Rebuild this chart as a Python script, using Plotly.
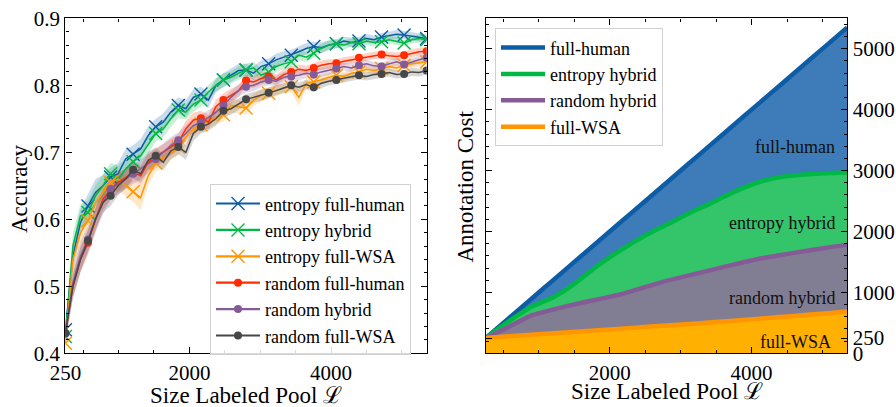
import plotly.graph_objects as go

# ---------------- data: left panel (accuracy) ----------------
X_ACC = [250, 356, 462, 569, 675, 781, 888, 994, 1100, 1206, 1312, 1419, 1525, 1631, 1738,
         1844, 1950, 2056, 2163, 2269, 2375, 2481, 2588, 2694, 2800, 2906, 3012, 3119, 3225,
         3331, 3438, 3544, 3650, 3756, 3862, 3969, 4075, 4181, 4288, 4394, 4500, 4606, 4713,
         4819, 4925, 5031, 5138, 5244, 5350]

ACC_ENT_HUMAN = [0.435, 0.545, 0.595, 0.620, 0.640, 0.650, 0.663, 0.668, 0.690, 0.697, 0.705, 0.725,
                 0.738, 0.745, 0.760, 0.770, 0.765, 0.782, 0.787, 0.778, 0.800, 0.808, 0.815, 0.822,
                 0.823, 0.818, 0.828, 0.832, 0.838, 0.842, 0.845, 0.850, 0.855, 0.858, 0.856, 0.860,
                 0.862, 0.866, 0.864, 0.866, 0.870, 0.868, 0.872, 0.874, 0.876, 0.875, 0.873, 0.871,
                 0.870]
ACC_ENT_HYBRID = [0.425, 0.560, 0.605, 0.610, 0.635, 0.650, 0.668, 0.660, 0.675, 0.686, 0.695, 0.712,
                  0.728, 0.735, 0.750, 0.763, 0.760, 0.772, 0.778, 0.790, 0.800, 0.808, 0.812, 0.818,
                  0.823, 0.826, 0.815, 0.820, 0.828, 0.832, 0.835, 0.845, 0.842, 0.848, 0.855, 0.860,
                  0.862, 0.860, 0.864, 0.862, 0.866, 0.864, 0.865, 0.868, 0.866, 0.863, 0.868, 0.870,
                  0.868]
ACC_ENT_WSA = [0.415, 0.540, 0.580, 0.598, 0.625, 0.640, 0.655, 0.660, 0.650, 0.641, 0.632, 0.665,
               0.684, 0.690, 0.700, 0.708, 0.722, 0.735, 0.741, 0.745, 0.752, 0.756, 0.770, 0.768,
               0.766, 0.778, 0.785, 0.788, 0.792, 0.796, 0.798, 0.782, 0.803, 0.805, 0.808, 0.812,
               0.815, 0.813, 0.818, 0.820, 0.824, 0.822, 0.825, 0.828, 0.826, 0.830, 0.832, 0.834,
               0.835]
ACC_RND_HUMAN = [0.430, 0.500, 0.540, 0.565, 0.600, 0.630, 0.645, 0.655, 0.662, 0.670, 0.665, 0.685,
                 0.693, 0.700, 0.708, 0.715, 0.735, 0.748, 0.751, 0.745, 0.768, 0.778, 0.785, 0.792,
                 0.807, 0.805, 0.810, 0.813, 0.808, 0.816, 0.820, 0.824, 0.822, 0.826, 0.830, 0.832,
                 0.833, 0.836, 0.838, 0.841, 0.843, 0.845, 0.846, 0.844, 0.843, 0.845, 0.848, 0.850,
                 0.851]
ACC_RND_HYBRID = [0.430, 0.505, 0.545, 0.570, 0.600, 0.625, 0.645, 0.652, 0.660, 0.668, 0.675, 0.682,
                  0.690, 0.700, 0.710, 0.718, 0.728, 0.740, 0.745, 0.752, 0.760, 0.770, 0.782, 0.792,
                  0.798, 0.800, 0.805, 0.808, 0.806, 0.812, 0.813, 0.815, 0.818, 0.816, 0.820, 0.822,
                  0.825, 0.828, 0.826, 0.830, 0.832, 0.829, 0.828, 0.832, 0.835, 0.831, 0.835, 0.838,
                  0.841]
ACC_RND_WSA = [0.430, 0.500, 0.540, 0.568, 0.600, 0.625, 0.635, 0.650, 0.660, 0.674, 0.668, 0.688,
               0.695, 0.685, 0.702, 0.708, 0.700, 0.728, 0.738, 0.742, 0.750, 0.762, 0.765, 0.772,
               0.779, 0.782, 0.785, 0.789, 0.792, 0.796, 0.800, 0.797, 0.801, 0.797, 0.803, 0.806,
               0.808, 0.810, 0.812, 0.815, 0.813, 0.816, 0.817, 0.819, 0.816, 0.817, 0.820, 0.819,
               0.822]

STD_ENT_HUMAN = [0.012, 0.020, 0.020, 0.018, 0.020, 0.016, 0.014, 0.016, 0.015, 0.013, 0.015, 0.014,
                 0.012, 0.013, 0.012, 0.012, 0.013, 0.012, 0.011, 0.012, 0.010, 0.010, 0.010, 0.010,
                 0.009, 0.010, 0.009, 0.008, 0.009, 0.009, 0.008, 0.008, 0.008, 0.007, 0.008, 0.007,
                 0.007, 0.007, 0.007, 0.006, 0.007, 0.006, 0.006, 0.006, 0.007, 0.006, 0.006, 0.006,
                 0.006]
STD_ENT_HYBRID = [0.012, 0.020, 0.018, 0.018, 0.016, 0.018, 0.016, 0.020, 0.015, 0.014, 0.013, 0.014,
                  0.012, 0.013, 0.012, 0.012, 0.011, 0.012, 0.010, 0.011, 0.010, 0.010, 0.009, 0.010,
                  0.009, 0.009, 0.010, 0.009, 0.008, 0.008, 0.008, 0.008, 0.007, 0.007, 0.007, 0.007,
                  0.006, 0.007, 0.006, 0.006, 0.006, 0.006, 0.006, 0.006, 0.006, 0.005, 0.006, 0.006,
                  0.006]
STD_ENT_WSA = [0.012, 0.018, 0.018, 0.016, 0.016, 0.015, 0.014, 0.015, 0.016, 0.015, 0.018, 0.014,
               0.013, 0.013, 0.012, 0.012, 0.012, 0.011, 0.011, 0.010, 0.010, 0.010, 0.011, 0.010,
               0.010, 0.009, 0.009, 0.009, 0.008, 0.008, 0.008, 0.012, 0.008, 0.007, 0.007, 0.007,
               0.007, 0.007, 0.007, 0.006, 0.006, 0.006, 0.006, 0.006, 0.006, 0.006, 0.006, 0.006,
               0.006]
STD_RND_HUMAN = [0.012, 0.018, 0.020, 0.018, 0.018, 0.016, 0.015, 0.015, 0.014, 0.014, 0.014, 0.013,
                 0.013, 0.012, 0.012, 0.012, 0.012, 0.011, 0.011, 0.011, 0.010, 0.010, 0.010, 0.009,
                 0.009, 0.009, 0.009, 0.008, 0.008, 0.008, 0.008, 0.007, 0.007, 0.007, 0.007, 0.007,
                 0.006, 0.006, 0.006, 0.006, 0.006, 0.006, 0.006, 0.006, 0.006, 0.006, 0.006, 0.006,
                 0.006]
STD_RND_HYBRID = [0.012, 0.020, 0.022, 0.020, 0.020, 0.018, 0.016, 0.016, 0.015, 0.015, 0.014, 0.014,
                  0.014, 0.013, 0.013, 0.012, 0.012, 0.011, 0.011, 0.011, 0.010, 0.010, 0.010, 0.009,
                  0.009, 0.009, 0.008, 0.008, 0.008, 0.008, 0.008, 0.007, 0.007, 0.007, 0.007, 0.007,
                  0.007, 0.006, 0.006, 0.006, 0.006, 0.006, 0.006, 0.006, 0.006, 0.006, 0.006, 0.006,
                  0.006]
STD_RND_WSA = [0.012, 0.018, 0.018, 0.016, 0.016, 0.015, 0.015, 0.014, 0.014, 0.013, 0.013, 0.013,
               0.012, 0.012, 0.012, 0.011, 0.011, 0.011, 0.010, 0.010, 0.010, 0.009, 0.009, 0.009,
               0.008, 0.008, 0.008, 0.008, 0.008, 0.007, 0.007, 0.007, 0.007, 0.007, 0.007, 0.006,
               0.006, 0.006, 0.006, 0.006, 0.006, 0.006, 0.006, 0.006, 0.006, 0.006, 0.006, 0.006,
               0.006]

ACC_NAMES = ["entropy full-human", "entropy hybrid", "entropy full-WSA",
             "random full-human", "random hybrid", "random full-WSA"]

# ---------------- data: right panel (annotation cost) ----------------
X_COST = [250, 569, 888, 1206, 1525, 1844, 2163, 2481, 2800, 3119, 3438, 3756, 4075, 4394,
          4713, 5031, 5350]
COST_FULL_HUMAN = [250, 569, 888, 1206, 1525, 1844, 2163, 2481, 2800, 3119, 3438, 3756, 4075,
                   4394, 4713, 5031, 5350]
COST_ENT_HYBRID = [250, 520, 760, 920, 1160, 1450, 1700, 1920, 2110, 2300, 2470, 2650, 2800,
                   2890, 2930, 2955, 2970]
COST_RND_HYBRID = [250, 430, 620, 720, 810, 890, 970, 1080, 1190, 1280, 1370, 1460, 1545, 1610,
                   1670, 1730, 1780]
COST_FULL_WSA = [250, 280, 305, 330, 355, 380, 405, 430, 455, 480, 510, 535, 565, 595, 625, 655,
                 685]
COST_NAMES = ["full-human", "entropy hybrid", "random hybrid", "full-WSA"]

# ---------------- style ----------------
BLUE, GREEN, ORANGE = "#0C5DA5", "#00B945", "#FF9500"
RED, PURPLE, GRAY = "#FF2C00", "#845B97", "#474747"
FONT = "Liberation Serif"


def rgba(hex_color, a):
    h = hex_color.lstrip("#")
    r, g, b = int(h[0:2], 16), int(h[2:4], 16), int(h[4:6], 16)
    return f"rgba({r},{g},{b},{a})"


W, H = 896, 407
L_X0, L_X1 = 65.4, 426.7
R_X0, R_X1 = 485.7, 847.3
Y_TOP, Y_BOT = 18.3, 353.3

fig = go.Figure()

acc_series = [
    (ACC_NAMES[0], ACC_ENT_HUMAN, STD_ENT_HUMAN, BLUE, "x"),
    (ACC_NAMES[1], ACC_ENT_HYBRID, STD_ENT_HYBRID, GREEN, "x"),
    (ACC_NAMES[2], ACC_ENT_WSA, STD_ENT_WSA, ORANGE, "x"),
    (ACC_NAMES[3], ACC_RND_HUMAN, STD_RND_HUMAN, RED, "o"),
    (ACC_NAMES[4], ACC_RND_HYBRID, STD_RND_HYBRID, PURPLE, "o"),
    (ACC_NAMES[5], ACC_RND_WSA, STD_RND_WSA, GRAY, "o"),
]


def marker_style(color, kind):
    if kind == "x":
        return dict(symbol="x-thin", size=13, color=color, line=dict(color=color, width=1.4))
    return dict(symbol="circle", size=8, color=color, line=dict(width=0))


# bands
for name, y, s, color, kind in acc_series:
    up = [a + b for a, b in zip(y, s)]
    lo = [a - b for a, b in zip(y, s)]
    fig.add_trace(go.Scatter(x=X_ACC + X_ACC[::-1], y=up + lo[::-1], fill="toself",
                             fillcolor=rgba(color, 0.22), line=dict(width=0), mode="lines",
                             hoverinfo="skip", showlegend=False, xaxis="x", yaxis="y"))
# lines and markers
for name, y, s, color, kind in acc_series:
    fig.add_trace(go.Scatter(x=X_ACC, y=y, mode="lines", line=dict(color=color, width=1.5),
                             showlegend=False, xaxis="x", yaxis="y"))
    fig.add_trace(go.Scatter(x=X_ACC[::3], y=y[::3], mode="markers",
                             marker=marker_style(color, kind),
                             showlegend=False, xaxis="x", yaxis="y"))
# legend entries
for name, y, s, color, kind in acc_series:
    fig.add_trace(go.Scatter(x=[None], y=[None], mode="lines+markers", name=name,
                             line=dict(color=color, width=2.2), marker=marker_style(color, kind),
                             legend="legend", xaxis="x", yaxis="y"))

# right panel fills (stacked regions)
fills = [
    (COST_FULL_WSA, "#FFB000", "tozeroy"),
    (COST_RND_HYBRID, "#817E94", "tonexty"),
    (COST_ENT_HYBRID, "#34C56B", "tonexty"),
    (COST_FULL_HUMAN, "#3D7CB9", "tonexty"),
]
for y, fc, mode in fills:
    fig.add_trace(go.Scatter(x=X_COST, y=y, fill=mode, fillcolor=fc, mode="lines",
                             line=dict(width=0, shape="spline", smoothing=0.5),
                             hoverinfo="skip", showlegend=False, xaxis="x2", yaxis="y2"))

cost_lines = [
    (COST_NAMES[0], COST_FULL_HUMAN, BLUE),
    (COST_NAMES[1], COST_ENT_HYBRID, GREEN),
    (COST_NAMES[2], COST_RND_HYBRID, PURPLE),
    (COST_NAMES[3], COST_FULL_WSA, ORANGE),
]
for name, y, color in cost_lines:
    fig.add_trace(go.Scatter(x=X_COST, y=y, mode="lines", name=name,
                             line=dict(color=color, width=4.5, shape="spline", smoothing=0.5),
                             legend="legend2", xaxis="x2", yaxis="y2"))

# ---------------- axes ----------------
def px_x(p):
    return p / W


def px_y(p):
    return (H - p) / H


tickfont = dict(family=FONT, size=21, color="black")
common = dict(showline=True, linecolor="black", linewidth=1.4, mirror="allticks",
              ticks="inside", ticklen=6, tickwidth=1.2, tickcolor="black",
              showgrid=False, zeroline=False, tickfont=tickfont, automargin=False)

fig.update_layout(
    template="none",
    width=W, height=H,
    margin=dict(l=0, r=0, t=0, b=0, pad=0),
    paper_bgcolor="white", plot_bgcolor="white",
    font=dict(family=FONT, color="black"),
    xaxis=dict(domain=[px_x(L_X0), px_x(L_X1)], anchor="y", range=[250, 5350],
               tickmode="array", tickvals=[250, 2000, 4000],
               minor=dict(ticks="inside", ticklen=3, tickwidth=1, tickcolor="black",
                          tickmode="linear", tick0=0, dtick=500, showgrid=False),
               **common),
    yaxis=dict(domain=[px_y(Y_BOT), px_y(Y_TOP)], anchor="x", range=[0.4, 0.9],
               tickmode="linear", tick0=0.4, dtick=0.1, tickformat=".1f",
               minor=dict(ticks="inside", ticklen=3, tickwidth=1, tickcolor="black",
                          tickmode="linear", tick0=0.4, dtick=0.02, showgrid=False),
               **common),
    xaxis2=dict(domain=[px_x(R_X0), px_x(R_X1)], anchor="y2", range=[250, 5350],
                tickmode="array", tickvals=[2000, 4000],
                minor=dict(ticks="inside", ticklen=3, tickwidth=1, tickcolor="black",
                           tickmode="linear", tick0=0, dtick=500, showgrid=False),
                **common),
    yaxis2=dict(domain=[px_y(Y_BOT), px_y(Y_TOP)], anchor="x2", side="right", range=[0, 5500],
                tickmode="array", tickvals=[0, 250, 1000, 2000, 3000, 4000, 5000],
                minor=dict(ticks="inside", ticklen=3, tickwidth=1, tickcolor="black",
                           tickmode="linear", tick0=0, dtick=200, showgrid=False),
                **common),
    legend=dict(x=px_x(210), y=px_y(184.3), xanchor="left", yanchor="top",
                traceorder="normal", itemwidth=44, entrywidth=150, entrywidthmode="pixels",
                bgcolor="rgba(255,255,255,0.85)", bordercolor="#d0d0d0", borderwidth=1,
                font=dict(family=FONT, size=18, color="black"), tracegroupgap=0),
    legend2=dict(x=px_x(495), y=px_y(28.3), xanchor="left", yanchor="top",
                 traceorder="normal", itemwidth=44, entrywidth=122, entrywidthmode="pixels",
                 bgcolor="rgba(255,255,255,0.85)", bordercolor="#d0d0d0", borderwidth=1,
                 font=dict(family=FONT, size=18, color="black"), tracegroupgap=0),
)

title_font = dict(family=FONT, size=23, color="black")
annotations = [
    dict(text="Size Labeled Pool ℒ", x=px_x((L_X0 + L_X1) / 2), y=px_y(395), xref="paper",
         yref="paper", xanchor="center", yanchor="middle", showarrow=False, font=title_font),
    dict(text="Size Labeled Pool ℒ", x=px_x((R_X0 + R_X1) / 2), y=px_y(391), xref="paper",
         yref="paper", xanchor="center", yanchor="middle", showarrow=False, font=title_font),
    dict(text="Accuracy", x=px_x(19.5), y=px_y(188.5), xref="paper", yref="paper",
         xanchor="center", yanchor="middle", textangle=-90, showarrow=False, font=title_font),
    dict(text="Annotation Cost", x=px_x(465.8), y=px_y(186.7), xref="paper", yref="paper",
         xanchor="center", yanchor="middle", textangle=-90, showarrow=False, font=title_font),
]
label_font = dict(family=FONT, size=18, color="#111111")
for text, xv, yv in [("full-human", 5200, 3390), ("entropy hybrid", 5200, 2146),
                     ("random hybrid", 5200, 913), ("full-WSA", 5150, 180)]:
    annotations.append(dict(text=text, x=xv, y=yv, xref="x2", yref="y2", xanchor="right",
                            yanchor="middle", showarrow=False, font=label_font))
fig.update_layout(annotations=annotations)

fig.write_html("out.html", config={"displayModeBar": False},
               post_script="document.body.style.margin='0';document.body.style.overflow='hidden';")
